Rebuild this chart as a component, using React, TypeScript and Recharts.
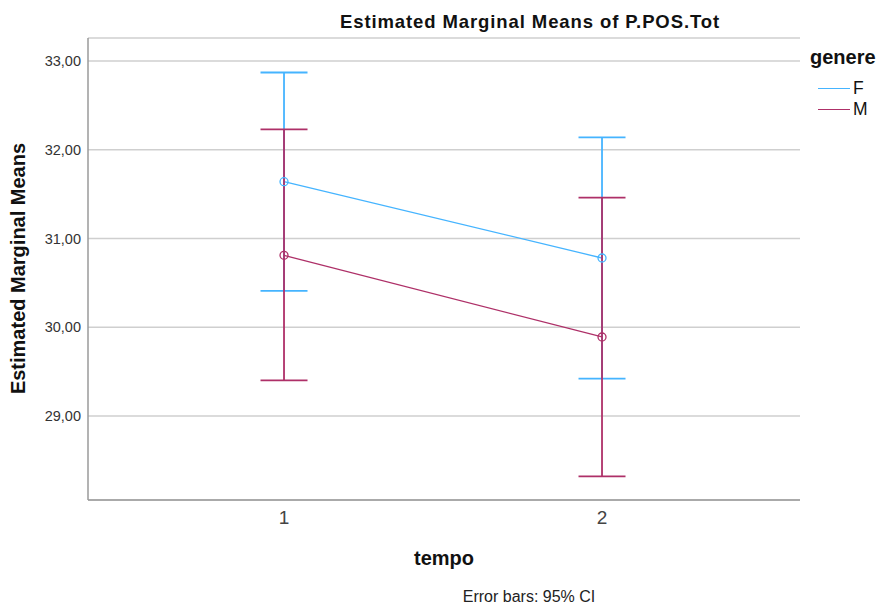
import React from "react";
import {
  ComposedChart,
  Line,
  XAxis,
  YAxis,
  CartesianGrid,
  ErrorBar,
} from "recharts";

const tempo = [1, 2];
const meanF = [31.64, 30.78];
const lowF = [30.41, 29.42];
const highF = [32.87, 32.14];
const meanM = [30.81, 29.89];
const lowM = [29.4, 28.32];
const highM = [32.23, 31.46];
const yTicks = [29, 30, 31, 32, 33];

const COLOR_F = "#45b4ff";
const COLOR_M = "#ae3068";
const FONT = "'Liberation Sans', Arial, sans-serif";

const data = tempo.map((t, i) => ({
  tempo: t,
  F: meanF[i],
  M: meanM[i],
  errF: [meanF[i] - lowF[i], highF[i] - meanF[i]],
  errM: [meanM[i] - lowM[i], highM[i] - meanM[i]],
}));

const fmt = (v: number) => v.toFixed(2).replace(".", ",");

export default function App() {
  return (
    <div
      style={{
        position: "absolute",
        left: 0,
        top: 0,
        width: 881,
        height: 610,
        background: "#fff",
        fontFamily: FONT,
      }}
    >
      <div
        style={{
          position: "absolute",
          top: 11,
          left: 280,
          width: 500,
          textAlign: "center",
          fontSize: 18.5,
          letterSpacing: 0.9,
          fontWeight: "bold",
          color: "#111",
        }}
      >
        Estimated Marginal Means of P.POS.Tot
      </div>

      <ComposedChart
        width={881}
        height={610}
        data={data}
        margin={{ top: 38, right: 81, bottom: 80, left: 0 }}
      >
        <CartesianGrid
          vertical={false}
          stroke="#cfcfcf"
          strokeWidth={1.5}
        />
        <XAxis
          dataKey="tempo"
          type="number"
          domain={[0.3836, 2.6226]}
          ticks={tempo}
          allowDataOverflow
          tickLine={false}
          axisLine={{ stroke: "#9a9a9a", strokeWidth: 1.5 }}
          tick={{ fontSize: 19, fill: "#444", fontFamily: FONT }}
          tickMargin={5}
          height={30}
        />
        <YAxis
          type="number"
          domain={[28.053, 33.259]}
          ticks={yTicks}
          allowDataOverflow
          tickFormatter={fmt}
          tickLine={false}
          axisLine={{ stroke: "#9a9a9a", strokeWidth: 1.5 }}
          tick={{ fontSize: 14.5, fill: "#333", fontFamily: FONT }}
          tickMargin={1}
          width={88}
        />
        <Line
          dataKey="F"
          stroke={COLOR_F}
          strokeWidth={1.3}
          dot={{ r: 4, fill: "none", stroke: COLOR_F, strokeWidth: 1.3 }}
          activeDot={false}
          isAnimationActive={false}
        >
          <ErrorBar
            dataKey="errF"
            direction="y"
            width={23.5}
            stroke={COLOR_F}
            strokeWidth={1.8}
            isAnimationActive={false}
          />
        </Line>
        <Line
          dataKey="M"
          stroke={COLOR_M}
          strokeWidth={1.3}
          dot={{ r: 4, fill: "none", stroke: COLOR_M, strokeWidth: 1.3 }}
          activeDot={false}
          isAnimationActive={false}
        >
          <ErrorBar
            dataKey="errM"
            direction="y"
            width={23.5}
            stroke={COLOR_M}
            strokeWidth={1.8}
            isAnimationActive={false}
          />
        </Line>
      </ComposedChart>

      <div
        style={{
          position: "absolute",
          left: 18 - 150,
          top: 269 - 12,
          width: 300,
          textAlign: "center",
          transform: "rotate(-90deg)",
          fontSize: 20,
          fontWeight: "bold",
          color: "#111",
        }}
      >
        Estimated Marginal Means
      </div>

      <div
        style={{
          position: "absolute",
          left: 344,
          top: 547,
          width: 200,
          textAlign: "center",
          fontSize: 20,
          fontWeight: "bold",
          color: "#111",
        }}
      >
        tempo
      </div>

      <div
        style={{
          position: "absolute",
          left: 429,
          top: 588,
          width: 200,
          textAlign: "center",
          fontSize: 16,
          color: "#222",
        }}
      >
        Error bars: 95% CI
      </div>

      <div style={{ position: "absolute", left: 810, top: 46, color: "#111" }}>
        <div style={{ fontSize: 20, fontWeight: "bold", marginBottom: 9 }}>
          genere
        </div>
        {[
          { name: "F", color: COLOR_F },
          { name: "M", color: COLOR_M },
        ].map((s) => (
          <div
            key={s.name}
            style={{
              display: "flex",
              alignItems: "center",
              height: 21,
              fontSize: 17.5,
              marginLeft: 8,
            }}
          >
            <span
              style={{
                display: "inline-block",
                width: 32,
                height: 0,
                borderTop: `1.5px solid ${s.color}`,
                marginRight: 3,
              }}
            />
            {s.name}
          </div>
        ))}
      </div>
    </div>
  );
}
